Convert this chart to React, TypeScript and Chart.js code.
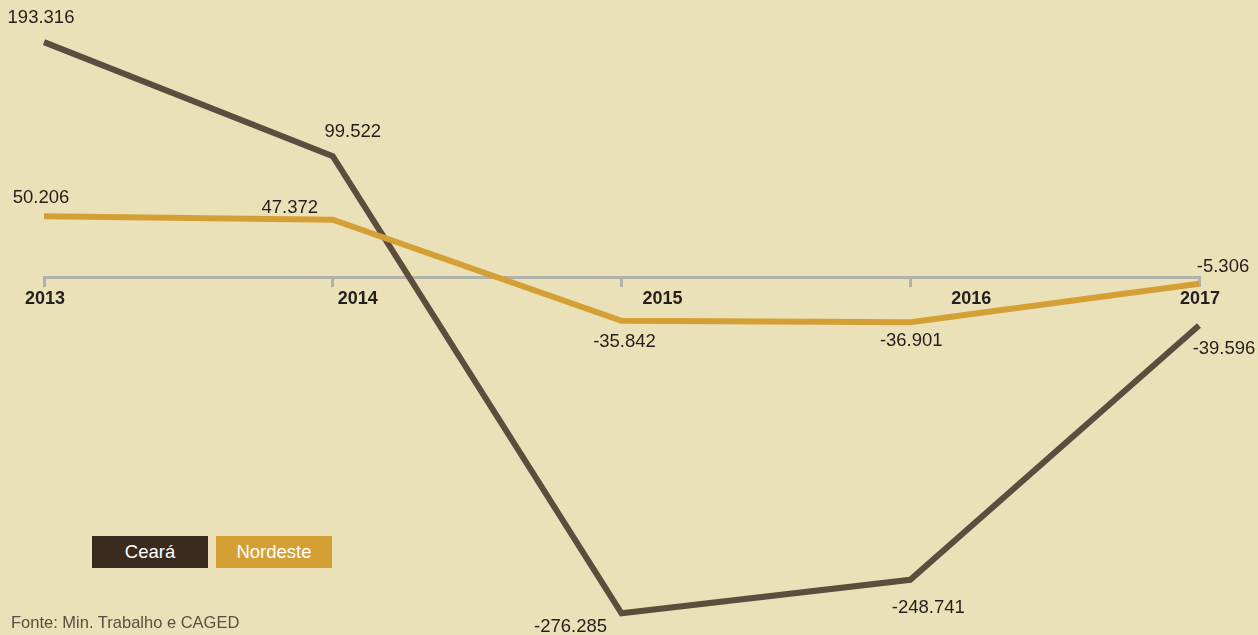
import React, { useEffect, useRef } from "react";
import { Chart, registerables } from "chart.js";

Chart.register(...registerables);

const years = ["2013", "2014", "2015", "2016", "2017"];
const cearaValues = [193.316, 99.522, -276.285, -248.741, -39.596];
const nordesteValues = [50.206, 47.372, -35.842, -36.901, -5.306];
const cearaLabels = ["193.316", "99.522", "-276.285", "-248.741", "-39.596"];
const nordesteLabels = ["50.206", "47.372", "-35.842", "-36.901", "-5.306"];

const BG = "#ebe1b8";
const CEARA_LINE = "#5c4d3f";
const CEARA_BOX = "#3b2a1e";
const NORDESTE_LINE = "#d4a035";
const AXIS_GRAY = "#b2b0ab";
const TEXT = "#231f1a";
const FONT = "'Liberation Sans', Arial, Helvetica, sans-serif";

// value label offsets (styling) per dataset index, per point
const labelOffsets: Record<number, [number, number][]> = {
  0: [[-3, -18], [-43, -12], [3, 21], [1, 19], [24, -17]],
  1: [[-3, -24], [20, -24], [-51, 14], [18, 28], [25, 23]],
};
// horizontal offsets of the year labels from their tick marks (styling)
const yearLabelShift = [1, 25, 41, 61, 1];

const valueLabelsPlugin = {
  id: "valueLabels",
  afterDatasetsDraw(chart: any) {
    const ctx = chart.ctx;
    ctx.save();
    ctx.font = `18.5px ${FONT}`;
    ctx.fillStyle = TEXT;
    ctx.textAlign = "center";
    ctx.textBaseline = "middle";
    chart.data.datasets.forEach((ds: any, i: number) => {
      const meta = chart.getDatasetMeta(i);
      const texts: string[] = ds.valueTexts;
      meta.data.forEach((pt: any, j: number) => {
        const off = labelOffsets[i][j];
        ctx.fillText(texts[j], pt.x + off[0], pt.y + off[1]);
      });
    });
    // year labels under the zero axis
    const xs = chart.scales.x;
    const y0 = chart.scales.y.getPixelForValue(0);
    ctx.font = `bold 18px ${FONT}`;
    chart.data.labels.forEach((lab: string, k: number) => {
      ctx.fillText(lab, xs.getPixelForValue(k) + yearLabelShift[k], y0 + 22);
    });
    ctx.restore();
  },
};

export default function App() {
  const canvasRef = useRef<HTMLCanvasElement>(null);

  useEffect(() => {
    if (!canvasRef.current) return;
    const chart = new Chart(canvasRef.current, {
      type: "line",
      data: {
        labels: years,
        datasets: [
          {
            label: "Nordeste",
            data: nordesteValues,
            borderColor: NORDESTE_LINE,
            borderWidth: 6,
            pointRadius: 0,
            tension: 0,
            fill: false,
            borderJoinStyle: "miter",
            valueTexts: nordesteLabels,
          } as any,
          {
            label: "Ceará",
            data: cearaValues,
            borderColor: CEARA_LINE,
            borderWidth: 6,
            pointRadius: 0,
            tension: 0,
            fill: false,
            borderJoinStyle: "miter",
            valueTexts: cearaLabels,
          } as any,
        ],
      },
      options: {
        animation: false,
        responsive: false,
        events: [],
        layout: { padding: { left: 44, right: 59, top: 34, bottom: 5 } },
        plugins: {
          legend: { display: false },
          tooltip: { enabled: false },
          title: { display: false },
        },
        scales: {
          y: {
            display: false,
            min: -290,
            max: 200,
          },
          x: {
            position: { y: 0 } as any,
            offset: false,
            grid: {
              display: true,
              drawOnChartArea: false,
              drawTicks: true,
              tickLength: 8,
              color: AXIS_GRAY,
              lineWidth: 3,
            },
            border: { display: true, color: AXIS_GRAY, width: 3 },
            ticks: {
              display: false,
              autoSkip: false,
            },
          },
        },
      },
      plugins: [valueLabelsPlugin],
    });
    return () => chart.destroy();
  }, []);

  const boxStyle: React.CSSProperties = {
    position: "absolute",
    top: 536,
    width: 116,
    height: 32,
    color: "#ffffff",
    fontFamily: FONT,
    fontSize: 18.5,
    lineHeight: "32px",
    textAlign: "center",
  };

  return (
    <div
      style={{
        position: "fixed",
        left: 0,
        top: 0,
        width: 1258,
        height: 635,
        background: BG,
        overflow: "hidden",
      }}
    >
      <canvas ref={canvasRef} width={1258} height={635} style={{ position: "absolute", left: 0, top: 0 }} />
      <div style={{ ...boxStyle, left: 92, background: CEARA_BOX }}>Ceará</div>
      <div style={{ ...boxStyle, left: 216, background: NORDESTE_LINE }}>Nordeste</div>
      <div
        style={{
          position: "absolute",
          left: 11,
          top: 613,
          fontFamily: FONT,
          fontSize: 16.5,
          lineHeight: "19px",
          color: "#5a4f40",
          whiteSpace: "nowrap",
        }}
      >
        Fonte: Min. Trabalho e CAGED
      </div>
    </div>
  );
}
